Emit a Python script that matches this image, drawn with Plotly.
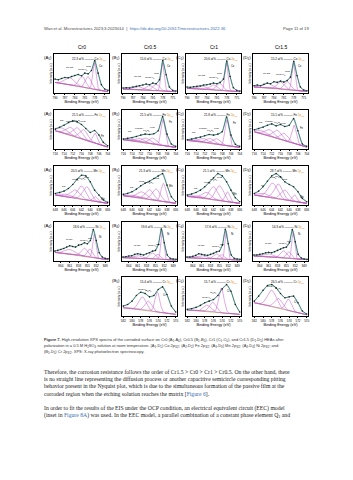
import numpy as np
import plotly.graph_objects as go

W, H = 353, 480

# ---------------- data ----------------
col_titles = ["Cr0", "Cr0.5", "Cr1", "Cr1.5"]
row_elements = ["Co", "Fe", "Mn", "Ni", "Cr"]

co_energy = [790, 789, 788, 787, 786, 785, 784, 783, 782, 781, 780, 779, 778, 777, 776, 775, 774]
fe_energy = [716, 715, 714, 713, 712, 711, 710, 709, 708, 707, 706, 705, 704]
mn_energy = [648, 647, 646, 645, 644, 643, 642, 641, 640, 639, 638, 637, 636]
ni_energy = [866, 865, 864, 863, 862, 861, 860, 859, 858, 857, 856, 855, 854, 853, 852, 851, 850, 849, 848]
cr_energy = [582, 581, 580, 579, 578, 577, 576, 575, 574, 573, 572, 571, 570]

co_ticks = [790, 787, 784, 781, 778, 775]
fe_ticks = [716, 714, 712, 710, 708, 706, 704]
mn_ticks = [648, 646, 644, 642, 640, 638, 636]
ni_ticks = [864, 861, 858, 855, 852, 849]
cr_ticks = [582, 580, 578, 576, 574, 572, 570]

# raw intensities (normalised)
A1_raw = [0.42, 0.40, 0.44, 0.47, 0.46, 0.50, 0.53, 0.56, 0.52, 0.60, 0.58, 0.68, 0.98, 0.60, 0.25, 0.12, 0.08]
B1_raw = [0.15, 0.16, 0.15, 0.18, 0.20, 0.22, 0.24, 0.27, 0.25, 0.30, 0.28, 0.40, 0.98, 0.55, 0.18, 0.08, 0.06]
C1_raw = [0.18, 0.17, 0.19, 0.20, 0.21, 0.24, 0.25, 0.27, 0.30, 0.28, 0.32, 0.42, 0.97, 0.50, 0.16, 0.08, 0.06]
D1_raw = [0.22, 0.24, 0.22, 0.26, 0.30, 0.28, 0.34, 0.32, 0.36, 0.33, 0.38, 0.48, 0.96, 0.52, 0.18, 0.09, 0.07]

A2_raw = [0.60, 0.66, 0.72, 0.80, 0.85, 0.82, 0.74, 0.62, 0.50, 0.56, 0.42, 0.20, 0.10]
B2_raw = [0.30, 0.32, 0.34, 0.38, 0.42, 0.45, 0.44, 0.46, 0.55, 0.98, 0.45, 0.15, 0.08]
C2_raw = [0.28, 0.30, 0.33, 0.36, 0.40, 0.44, 0.42, 0.45, 0.52, 0.97, 0.42, 0.14, 0.08]
D2_raw = [0.58, 0.62, 0.66, 0.72, 0.76, 0.70, 0.74, 0.68, 0.72, 0.92, 0.55, 0.15, 0.08]

A3_raw = [0.35, 0.38, 0.42, 0.50, 0.62, 0.78, 0.90, 0.88, 0.70, 0.45, 0.30, 0.15, 0.08]
B3_raw = [0.32, 0.35, 0.40, 0.48, 0.58, 0.66, 0.72, 0.80, 0.88, 0.95, 0.60, 0.25, 0.10]
C3_raw = [0.30, 0.33, 0.38, 0.45, 0.55, 0.68, 0.82, 0.95, 0.88, 0.70, 0.45, 0.22, 0.10]
D3_raw = [0.35, 0.42, 0.55, 0.72, 0.88, 0.95, 0.85, 0.70, 0.62, 0.55, 0.40, 0.20, 0.10]

A4_raw = [0.30, 0.32, 0.35, 0.38, 0.42, 0.46, 0.44, 0.42, 0.48, 0.50, 0.55, 0.52, 0.62, 0.95, 0.62, 0.25, 0.12, 0.08, 0.07]
B4_raw = [0.12, 0.13, 0.15, 0.16, 0.20, 0.22, 0.20, 0.18, 0.22, 0.25, 0.30, 0.32, 0.50, 0.97, 0.55, 0.18, 0.08, 0.06, 0.05]
C4_raw = [0.12, 0.12, 0.14, 0.17, 0.22, 0.20, 0.18, 0.17, 0.20, 0.23, 0.28, 0.30, 0.48, 0.96, 0.52, 0.18, 0.08, 0.06, 0.05]
D4_raw = [0.18, 0.18, 0.20, 0.22, 0.25, 0.26, 0.25, 0.28, 0.32, 0.36, 0.40, 0.42, 0.55, 0.95, 0.58, 0.20, 0.09, 0.06, 0.05]

B5_raw = [0.30, 0.35, 0.45, 0.62, 0.72, 0.68, 0.58, 0.62, 0.80, 0.88, 0.65, 0.30, 0.12]
C5_raw = [0.20, 0.22, 0.26, 0.32, 0.40, 0.45, 0.50, 0.62, 0.82, 0.95, 0.75, 0.35, 0.12]
D5_raw = [0.45, 0.60, 0.78, 0.92, 0.95, 0.85, 0.68, 0.55, 0.58, 0.60, 0.40, 0.15, 0.06]

# background (value at left end, value at right end)
A1_bg = [0.32, 0.04]; B1_bg = [0.12, 0.04]; C1_bg = [0.14, 0.04]; D1_bg = [0.18, 0.05]
A2_bg = [0.55, 0.06]; B2_bg = [0.28, 0.05]; C2_bg = [0.26, 0.05]; D2_bg = [0.52, 0.06]
A3_bg = [0.30, 0.05]; B3_bg = [0.28, 0.05]; C3_bg = [0.26, 0.05]; D3_bg = [0.30, 0.05]
A4_bg = [0.26, 0.04]; B4_bg = [0.10, 0.03]; C4_bg = [0.10, 0.03]; D4_bg = [0.15, 0.04]
B5_bg = [0.25, 0.05]; C5_bg = [0.18, 0.05]; D5_bg = [0.40, 0.04]

# fitted components: centre (eV), amplitude, FWHM (eV)
co_labels = ["Co", "CoO", "Co(OH)<sub>2</sub>", "Co sat."]
A1_cen = [778.1, 780.0, 781.8, 785.5]; A1_amp = [0.80, 0.35, 0.32, 0.22]; A1_fw = [1.2, 2.0, 2.4, 3.5]
B1_cen = [778.1, 780.0, 782.0, 785.5]; B1_amp = [0.85, 0.20, 0.15, 0.10]; B1_fw = [1.1, 2.2, 2.5, 3.5]
C1_cen = [778.1, 780.2, 782.0, 785.5]; C1_amp = [0.85, 0.22, 0.16, 0.10]; C1_fw = [1.1, 2.2, 2.5, 3.5]
D1_cen = [778.1, 780.0, 782.0, 786.0]; D1_amp = [0.82, 0.25, 0.22, 0.15]; D1_fw = [1.1, 2.2, 2.5, 3.5]

fe_labels = ["Fe", "FeO", "Fe<sub>2</sub>O<sub>3</sub>", "FeOOH", "sat."]
A2_cen = [706.9, 709.5, 711.0, 712.5, 714.5]; A2_amp = [0.30, 0.30, 0.30, 0.25, 0.15]; A2_fw = [1.2, 2.2, 2.4, 2.5, 3.0]
B2_cen = [706.9, 709.3, 710.8, 712.3, 714.5]; B2_amp = [0.78, 0.18, 0.15, 0.12, 0.05]; B2_fw = [1.1, 2.0, 2.2, 2.5, 3.0]
C2_cen = [706.9, 709.3, 710.8, 712.3, 714.5]; C2_amp = [0.78, 0.17, 0.15, 0.12, 0.05]; C2_fw = [1.1, 2.0, 2.2, 2.5, 3.0]
D2_cen = [706.9, 709.2, 710.8, 712.5, 714.5]; D2_amp = [0.55, 0.22, 0.25, 0.20, 0.10]; D2_fw = [1.2, 2.0, 2.2, 2.5, 3.0]

mn_labels = ["Mn", "MnO", "Mn<sub>2</sub>O<sub>3</sub>", "MnO<sub>2</sub>", "sat."]
A3_cen = [638.8, 640.8, 642.0, 643.5, 646.0]; A3_amp = [0.15, 0.40, 0.40, 0.25, 0.08]; A3_fw = [1.2, 2.2, 2.2, 2.5, 3.0]
B3_cen = [638.8, 640.5, 642.0, 643.8, 646.0]; B3_amp = [0.55, 0.35, 0.30, 0.20, 0.06]; B3_fw = [1.3, 2.2, 2.2, 2.5, 3.0]
C3_cen = [638.8, 640.6, 642.0, 643.6, 646.0]; C3_amp = [0.30, 0.45, 0.40, 0.20, 0.06]; C3_fw = [1.2, 2.2, 2.2, 2.5, 3.0]
D3_cen = [638.8, 641.0, 642.5, 643.8, 646.0]; D3_amp = [0.20, 0.30, 0.45, 0.45, 0.10]; D3_fw = [1.2, 2.2, 2.2, 2.5, 3.0]

ni_labels = ["Ni", "NiO", "Ni(OH)<sub>2</sub>", "Ni sat."]
A4_cen = [852.7, 854.2, 856.0, 861.0]; A4_amp = [0.72, 0.25, 0.25, 0.15]; A4_fw = [1.2, 2.0, 2.5, 4.0]
B4_cen = [852.7, 854.2, 856.0, 861.0]; B4_amp = [0.88, 0.15, 0.18, 0.08]; B4_fw = [1.1, 2.0, 2.5, 4.0]
C4_cen = [852.7, 854.2, 856.0, 861.0]; C4_amp = [0.87, 0.14, 0.16, 0.08]; C4_fw = [1.1, 2.0, 2.5, 4.0]
D4_cen = [852.7, 854.2, 856.0, 861.0]; D4_amp = [0.82, 0.20, 0.22, 0.10]; D4_fw = [1.1, 2.0, 2.5, 4.0]

cr_labels = ["Cr", "Cr<sub>2</sub>O<sub>3</sub>", "Cr(OH)<sub>3</sub>"]
B5_cen = [574.2, 576.3, 577.6]; B5_amp = [0.60, 0.30, 0.40]; B5_fw = [1.3, 1.8, 2.0]
C5_cen = [574.2, 576.2, 577.5]; C5_amp = [0.75, 0.30, 0.20]; C5_fw = [1.4, 1.8, 2.0]
D5_cen = [574.2, 576.5, 578.0]; D5_amp = [0.35, 0.30, 0.50]; D5_fw = [1.5, 2.0, 2.4]

at_percent = {
    "A1": "22.3", "B1": "15.6", "C1": "20.6", "D1": "15.2",
    "A2": "21.5", "B2": "21.5", "C2": "21.8", "D2": "15.1",
    "A3": "20.5", "B3": "21.3", "C3": "21.1", "D3": "28.7",
    "A4": "18.6", "B4": "19.6", "C4": "17.6", "D4": "14.3",
    "B5": "15.4", "C5": "15.7", "D5": "26.5",
}

header_left = "Wan et al. Microstructures 2023;3:2023014  |  "
header_link = "https://dx.doi.org/10.20517/microstructures.2022.36"
header_right = "Page 11 of 19"

caption_lines = [
    "<b>Figure 7.</b> High-resolution XPS spectra of the corroded surface on Cr0 (A<sub>1</sub>-A<sub>4</sub>), Cr0.5 (B<sub>1</sub>-B<sub>5</sub>), Cr1 (C<sub>1</sub>-C<sub>5</sub>), and Cr1.5 (D<sub>1</sub>-D<sub>5</sub>) HEAs after",
    "polarization in a 0.5 M H<sub>2</sub>SO<sub>4</sub> solution at room temperature. (A<sub>1</sub>-D<sub>1</sub>) Co 2p<sub>3/2</sub>; (A<sub>2</sub>-D<sub>2</sub>) Fe 2p<sub>3/2</sub>; (A<sub>3</sub>-D<sub>3</sub>) Mn 2p<sub>3/2</sub>; (A<sub>4</sub>-D<sub>4</sub>) Ni 2p<sub>3/2</sub>; and",
    "(B<sub>5</sub>-D<sub>5</sub>) Cr 2p<sub>3/2</sub>. XPS: X-ray photoelectron spectroscopy.",
]
body_lines = [
    "Therefore, the corrosion resistance follows the order of Cr1.5 > Cr0 > Cr1 > Cr0.5. On the other hand, there",
    "is no straight line representing the diffusion process or another capacitive semicircle corresponding pitting",
    "behavior present in the Nyquist plot, which is due to the simultaneous formation of the passive film at the",
    "corroded region when the etching solution reaches the matrix [<span style='color:#3a6fb5'>Figure 6</span>].",
    "",
    "In order to fit the results of the EIS under the OCP condition, an electrical equivalent circuit (EEC) model",
    "(inset in <span style='color:#3a6fb5'>Figure 8A</span>) was used. In the EEC model, a parallel combination of a constant phase element Q<sub>1</sub> and",
]

# ---------------- layout helpers ----------------
col_px = {"A": (54, 109), "B": (122, 177), "C": (186, 241), "D": (253, 308)}
row_top_px = [54, 110, 166, 222, 277]
panel_h = 39

row_info = [
    (co_energy, co_ticks, co_labels),
    (fe_energy, fe_ticks, fe_labels),
    (mn_energy, mn_ticks, mn_labels),
    (ni_energy, ni_ticks, ni_labels),
    (cr_energy, cr_ticks, cr_labels),
]

g = globals()
panels = []
for r in range(5):
    for c in "ABCD":
        key = f"{c}{r+1}"
        if key + "_raw" in g:
            panels.append((key, r, c))


def px_x(x):
    return x / W


def px_y(y):
    return 1 - y / H


RAW = "#222222"
ENV = "#45b3a6"
COMP = "#c055c8"
BG = "#b8b45a"
ORANGE = "#e08a1e"

fig = go.Figure()
annotations = []
layout_axes = {}

for i, (key, r, c) in enumerate(panels, start=1):
    energy, ticks, labels = row_info[r]
    raw = g[key + "_raw"]
    bg = g[key + "_bg"]
    cen = g[key + "_cen"]
    amp = g[key + "_amp"]
    fw = g[key + "_fw"]
    e_left, e_right = energy[0], energy[-1]
    xa = "x" if i == 1 else f"x{i}"
    ya = "y" if i == 1 else f"y{i}"

    fine = np.linspace(e_left, e_right, 200)
    bgline = bg[0] + (bg[1] - bg[0]) * (e_left - fine) / (e_left - e_right)

    fig.add_trace(go.Scatter(x=fine, y=bgline, mode="lines", line=dict(color=BG, width=0.7),
                             xaxis=xa, yaxis=ya, showlegend=False, hoverinfo="skip"))
    for cc, aa, ww in zip(cen, amp, fw):
        comp = bgline + aa * np.exp(-4 * np.log(2) * (fine - cc) ** 2 / ww ** 2)
        fig.add_trace(go.Scatter(x=fine, y=comp, mode="lines", line=dict(color=COMP, width=0.5),
                                 xaxis=xa, yaxis=ya, showlegend=False, hoverinfo="skip"))
    fig.add_trace(go.Scatter(x=energy, y=raw, mode="lines",
                             line=dict(color=ENV, width=0.9, shape="spline", smoothing=0.8),
                             xaxis=xa, yaxis=ya, showlegend=False, hoverinfo="skip"))
    fig.add_trace(go.Scatter(x=energy, y=raw, mode="lines+markers", line=dict(color=RAW, width=0.4),
                             marker=dict(color=RAW, size=1.6),
                             xaxis=xa, yaxis=ya, showlegend=False, hoverinfo="skip"))

    x0, x1 = col_px[c]
    y0 = row_top_px[r]
    y1 = y0 + panel_h
    suffix = "" if i == 1 else str(i)
    layout_axes["xaxis" + suffix] = dict(
        domain=[px_x(x0), px_x(x1)], range=[e_left + 0.3, e_right - 0.3], anchor=ya,
        showline=True, mirror=True, linecolor="black", linewidth=0.5, showgrid=False, zeroline=False,
        ticks="outside", ticklen=1.5, tickwidth=0.4, tickcolor="black",
        tickvals=ticks, tickfont=dict(size=3, color="black", family="Arial"),
        title=dict(text="Binding Energy (eV)", font=dict(size=3.8, family="Arial", color="black"), standoff=1),
        automargin=False,
    )
    layout_axes["yaxis" + suffix] = dict(
        domain=[px_y(y1), px_y(y0)], range=[0, 1.18], anchor=xa,
        showline=True, mirror=True, linecolor="black", linewidth=0.5, showgrid=False, zeroline=False,
        showticklabels=False, ticks="",
        title=dict(text="Intensity (a.u.)", font=dict(size=3.2, family="Arial", color="black"), standoff=1),
        automargin=False,
    )

    annotations.append(dict(text=f"({c}<sub>{r+1}</sub>)", xref="paper", yref="paper",
                            x=px_x(x0 - 0.5), y=px_y(y0 - 1), xanchor="right", yanchor="top",
                            showarrow=False, font=dict(size=4.3, family="Arial", color="black")))
    el = row_elements[r]
    annotations.append(dict(
        text=f"{at_percent[key]} at% ——— {el} <span style='color:{ORANGE}'>2p<sub>3/2</sub></span>",
        xref="paper", yref="paper", x=px_x(x1 - 1.5), y=px_y(y0 + 0.8), xanchor="right", yanchor="top",
        showarrow=False, font=dict(size=3, family="Arial", color="black")))
    # component labels, staggered so they do not collide with the top annotation
    for k, (cc, aa) in enumerate(zip(cen, amp)):
        frac = (e_left - cc) / (e_left - e_right)
        bgc = bg[0] + (bg[1] - bg[0]) * frac
        yv = min(bgc + aa, 0.95)
        if k == 0:
            annotations.append(dict(text=labels[k], xref=xa, yref=ya, x=cc - 0.9, y=min(yv - 0.08, 0.82),
                                    xanchor="left", yanchor="middle", showarrow=False,
                                    font=dict(size=2.6, family="Arial", color="black")))
        else:
            ylab = min(yv + 0.12 + 0.08 * (k % 2), 0.80 - 0.08 * (k % 2))
            annotations.append(dict(text=labels[k], xref=xa, yref=ya, x=cc, y=ylab,
                                    xanchor="center", yanchor="bottom", showarrow=False,
                                    font=dict(size=2.4, family="Arial", color="black")))

for c, t in zip("ABCD", col_titles):
    x0, x1 = col_px[c]
    annotations.append(dict(text=t, xref="paper", yref="paper", x=px_x((x0 + x1) / 2), y=px_y(47),
                            xanchor="center", yanchor="middle", showarrow=False,
                            font=dict(size=5, family="Arial", color="black")))

annotations.append(dict(text=header_left + f"<span style='color:#3a6fb5'>{header_link}</span>",
                        xref="paper", yref="paper", x=px_x(42), y=px_y(28), xanchor="left", yanchor="middle",
                        showarrow=False, font=dict(size=4.2, family="Arial", color="#444444")))
annotations.append(dict(text=header_right, xref="paper", yref="paper", x=px_x(311), y=px_y(28),
                        xanchor="right", yanchor="middle", showarrow=False,
                        font=dict(size=4.2, family="Arial", color="#444444")))

for k, line in enumerate(caption_lines):
    annotations.append(dict(text=line, xref="paper", yref="paper", x=px_x(42), y=px_y(340 + 6.2 * k),
                            xanchor="left", yanchor="middle", showarrow=False,
                            font=dict(size=4.0, family="Arial", color="#333333")))

for k, line in enumerate(body_lines):
    if not line:
        continue
    annotations.append(dict(text=line, xref="paper", yref="paper", x=px_x(42), y=px_y(372 + 7.2 * k),
                            xanchor="left", yanchor="middle", showarrow=False,
                            font=dict(size=5.7, family="Liberation Serif", color="#222222")))

fig.update_layout(
    width=W, height=H, margin=dict(l=0, r=0, t=0, b=0),
    paper_bgcolor="white", plot_bgcolor="white",
    showlegend=False, annotations=annotations, **layout_axes,
)

fig.write_html("out.html")
